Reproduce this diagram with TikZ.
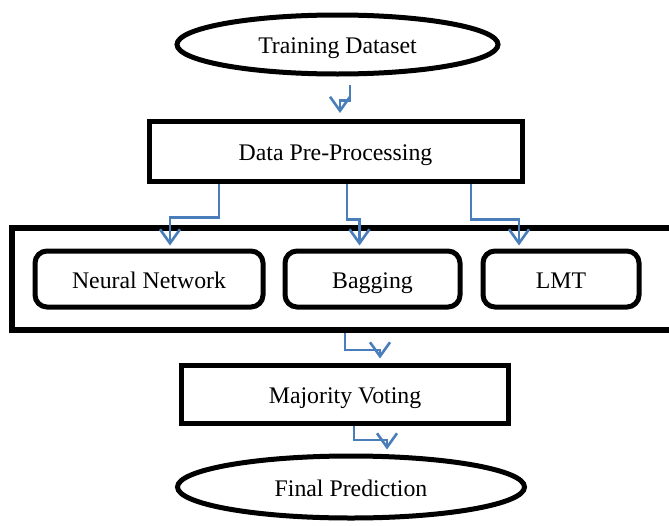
\documentclass[tikz,border=0pt]{standalone}
\usepackage{fontspec}
\setmainfont{Liberation Serif}
\usetikzlibrary{shapes.geometric,arrows.meta,calc}
\definecolor{arrblue}{RGB}{74,126,187}
\begin{document}
\begin{tikzpicture}[x=1pt,y=-1pt,
  every node/.style={font=\fontsize{23.8}{28}\selectfont, inner sep=0pt, text height=19pt, text depth=1pt},
  ell/.style={draw=black, line width=5pt, ellipse},
  sqbox/.style={draw=black, line width=5pt, rectangle},
  rbox/.style={draw=black, line width=5pt, rectangle, rounded corners=12pt},
  arr/.style={draw=arrblue, line width=2.6pt, -{Straight Barb[length=14pt,width=20pt]}}]
\useasboundingbox (0,0) rectangle (669,525);
\node[ell, minimum width=321pt, minimum height=59pt] (train) at (337.5,44.5) {Training Dataset};
\node[sqbox, minimum width=373pt, minimum height=60pt] (pre) at (335.5,151.5) {Data Pre-Processing};
\node[sqbox, line width=6pt, minimum width=690pt, minimum height=102pt] (outer) at (356.5,279) {};
\node[rbox, minimum width=228pt, minimum height=56pt] (nn) at (149,279) {Neural Network};
\node[rbox, minimum width=175pt, minimum height=56pt] (bag) at (372.5,279) {Bagging};
\node[rbox, minimum width=156pt, minimum height=56pt] (lmt) at (561,279) {LMT};
\node[sqbox, minimum width=327pt, minimum height=58pt] (maj) at (345,394) {Majority Voting};
\node[ell, minimum width=347pt, minimum height=62pt] (fin) at (351,487) {Final Prediction};
\draw[arr] ($(train.south)+(12.5,8)$) -- ++(0,16) -| ($(pre.north)+(4.5,-6)$);
\draw[arr] ($(pre.south)+(-116.5,0)$) -- ++(0,33.5) -| ($(nn.north)+(21,-3)$);
\draw[arr] ($(pre.south)+(11.5,0)$) -- ++(0,35.5) -| ($(bag.north)+(-13,-3)$);
\draw[arr] ($(pre.south)+(135.5,0)$) -- ++(0,35.5) -| ($(lmt.north)+(-42,-3)$);
\draw[arr] ($(outer.south west)+(336.5,0)$) -- ++(0,17) -| ($(maj.north)+(35,-4)$);
\draw[arr] ($(maj.south)+(9,0)$) -- ++(0,14.5) -| ($(fin.north)+(36,-4)$);
\end{tikzpicture}
\end{document}
